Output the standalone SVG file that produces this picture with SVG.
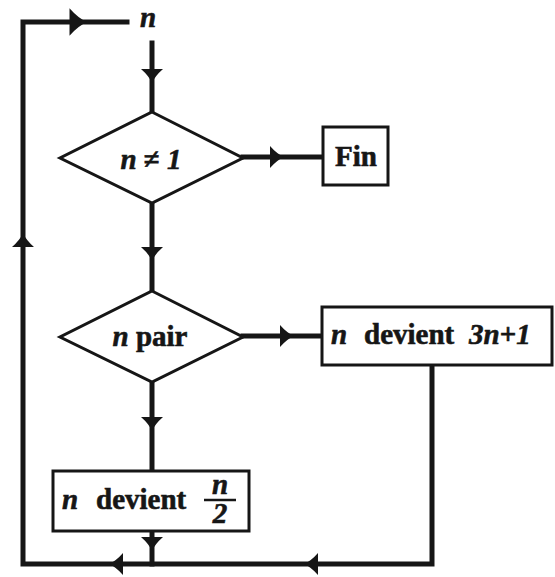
<svg xmlns="http://www.w3.org/2000/svg" xmlns:xlink="http://www.w3.org/1999/xlink" width="555" height="577" viewBox="0 0 555 577">
<style>
.bg{fill:#fff}
.ln{fill:none;stroke:#161616;stroke-width:5;stroke-linecap:square}
.sh{fill:#fff;stroke:#161616;stroke-width:3}
.ah{fill:#161616}
.t{font-family:"Liberation Serif","Times New Roman",serif;font-weight:bold;font-size:29px;fill:#161616;stroke:#161616;stroke-width:0.6}
.i{font-style:italic}
</style>
<defs>
<path id="ah" class="ah" d="M0,0 Q-7,-3 -14,-11 L-14,11 Q-7,3 0,0 Z"/>
</defs>
<rect class="bg" x="0" y="0" width="555" height="577"/>
<g id="connectors">
<polyline class="ln" points="127,22 23,22 23,564 432,564 432,365"/>
<line class="ln" x1="152" y1="43" x2="152" y2="112"/>
<line class="ln" x1="152" y1="203" x2="152" y2="291"/>
<line class="ln" x1="152" y1="382" x2="152" y2="471"/>
<line class="ln" x1="152" y1="531" x2="152" y2="564"/>
<line class="ln" x1="243" y1="157" x2="323" y2="157"/>
<line class="ln" x1="243" y1="336" x2="322" y2="336"/>
<use xlink:href="#ah" transform="translate(87,22) scale(1.25)"/>
<use xlink:href="#ah" transform="translate(152,83) rotate(90)"/>
<use xlink:href="#ah" transform="translate(284,157)"/>
<use xlink:href="#ah" transform="translate(152,261) rotate(90)"/>
<use xlink:href="#ah" transform="translate(294,336)"/>
<use xlink:href="#ah" transform="translate(152,431) rotate(90)"/>
<use xlink:href="#ah" transform="translate(152,551) rotate(90)"/>
<use xlink:href="#ah" transform="translate(109,564) rotate(180)"/>
<use xlink:href="#ah" transform="translate(304,564) rotate(180)"/>
<use xlink:href="#ah" transform="translate(23,233) rotate(-90)"/>
</g>
<g id="start">
<text class="t i" x="148" y="27" text-anchor="middle" font-size="22">n</text>
</g>
<g id="test1">
<polygon class="sh" points="152,112 243,158 152,203 60,158"/>
<text class="t" x="151" y="169" text-anchor="middle"><tspan class="i">n</tspan> ≠ <tspan class="i">1</tspan></text>
</g>
<g id="fin">
<rect class="sh" x="323" y="127" width="65" height="58"/>
<text class="t" x="356" y="166" text-anchor="middle">Fin</text>
</g>
<g id="test2">
<polygon class="sh" points="152,291 243,337 152,382 60,337"/>
<text class="t" x="150" y="346" text-anchor="middle"><tspan class="i">n</tspan> pair</text>
</g>
<g id="odd">
<rect class="sh" x="322" y="307" width="230" height="58"/>
<text class="t" x="331" y="344"><tspan class="i">n</tspan></text>
<text class="t" x="364" y="344">devient</text>
<text class="t" x="469" y="344"><tspan class="i">3n</tspan>+<tspan class="i">1</tspan></text>
</g>
<g id="even">
<rect class="sh" x="53" y="471" width="196" height="60"/>
<text class="t" x="62" y="509"><tspan class="i">n</tspan></text>
<text class="t" x="96" y="509">devient</text>
<text class="t i" x="220" y="494" text-anchor="middle" font-size="20">n</text>
<line x1="204" y1="500" x2="236" y2="500" stroke="#161616" stroke-width="2.5"/>
<text class="t i" x="220" y="523" text-anchor="middle" font-size="20">2</text>
</g>
</svg>
